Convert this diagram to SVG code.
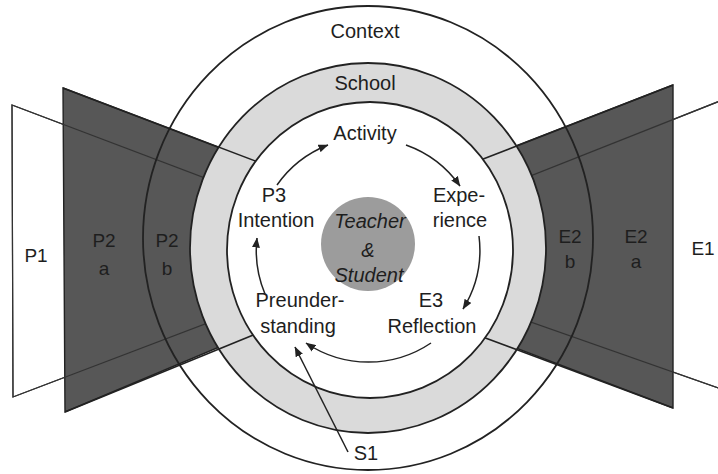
<svg xmlns="http://www.w3.org/2000/svg" width="718" height="474" viewBox="0 0 718 474">
  <style>
    text { font-family: "Liberation Sans", Arial, sans-serif; font-size: 20px; fill: #1e1e1e; text-anchor: middle; }
    .side { font-size: 19px; }
    .ital { font-style: italic; }
    .outline { fill: none; stroke: #333; stroke-width: 1.2; }
    .white { fill: #fff; stroke: #333; stroke-width: 1.2; }
    .dark { fill: #575757; stroke: #222; stroke-width: 1.4; }
    .edge { fill: none; stroke: #222; stroke-width: 1.6; }
    .ring { stroke: #222; stroke-width: 1.8; }
    .arrow { fill: none; stroke: #222; stroke-width: 1.5; marker-end: url(#head); }
  </style>
  <defs>
    <marker id="head" viewBox="0 0 10 8" refX="9.5" refY="4" markerWidth="10" markerHeight="8" markerUnits="userSpaceOnUse" orient="auto">
      <path d="M0,0 L10,4 L0,8 Z" fill="#222"/>
    </marker>
  </defs>

  <rect width="718" height="474" fill="#fff"/>

  <!-- left side: P1 frame and P2 wedge -->
  <g id="p1">
    <polygon class="white" points="12,105 210,180 210,322 13,397"/>
  </g>
  <g id="p2">
    <polygon class="dark" points="63,88 236,154 236,340 65,412"/>
    <polygon class="outline" points="12,105 210,180 210,322 13,397"/>
  </g>

  <!-- right side: E1 frame and E2 wedge -->
  <g id="e1">
    <polygon class="white" points="730,97 528,177 528,321 730,392"/>
  </g>
  <g id="e2">
    <polygon class="dark" points="673,85 500,152 500,342 673,408"/>
    <polygon class="outline" points="730,97 528,177 528,321 730,392"/>
  </g>

  <!-- context ring -->
  <g id="context">
    <ellipse class="ring" cx="368" cy="238" rx="225" ry="232" fill="none"/>
    <text x="365" y="38">Context</text>
  </g>

  <!-- school ring -->
  <g id="school">
    <ellipse class="ring" cx="368" cy="248" rx="178" ry="185" fill="#dadada"/>
    <text x="365" y="90">School</text>
  </g>

  <!-- wedge edges carried across the school ring -->
  <g id="wedge-edges">
    <line class="edge" x1="63" y1="88" x2="258" y2="162"/>
    <line class="edge" x1="65" y1="412" x2="258" y2="333"/>
    <line class="edge" x1="673" y1="85" x2="478" y2="161"/>
    <line class="edge" x1="673" y1="408" x2="480" y2="336"/>
  </g>

  <!-- classroom circle -->
  <g id="classroom">
    <ellipse class="ring" cx="370" cy="250" rx="143" ry="148" fill="#fff"/>
  </g>

  <!-- centre -->
  <g id="centre">
    <circle cx="368" cy="244" r="47" fill="#9c9c9c"/>
    <text class="ital" x="370" y="228">Teacher</text>
    <text class="ital" x="368" y="257">&amp;</text>
    <text class="ital" x="369" y="282">Student</text>
  </g>

  <!-- cycle stations -->
  <g id="activity"><text x="365" y="140">Activity</text></g>
  <g id="experience"><text x="459" y="202">Expe-</text><text x="460" y="227">rience</text></g>
  <g id="reflection"><text x="431" y="307">E3</text><text x="432" y="333">Reflection</text></g>
  <g id="preunderstanding"><text x="300" y="307">Preunder-</text><text x="298" y="333">standing</text></g>
  <g id="intention"><text x="274" y="202">P3</text><text x="276" y="227">Intention</text></g>
  <g id="s1"><text x="366" y="460">S1</text></g>

  <!-- side labels -->
  <g id="side-labels">
    <text class="side" x="36" y="262">P1</text>
    <text class="side" x="104" y="247">P2</text><text class="side" x="104" y="275">a</text>
    <text class="side" x="167" y="247">P2</text><text class="side" x="167" y="275">b</text>
    <text class="side" x="570" y="243">E2</text><text class="side" x="570" y="268">b</text>
    <text class="side" x="636" y="243">E2</text><text class="side" x="636" y="268">a</text>
    <text class="side" x="703" y="255">E1</text>
  </g>

  <!-- connectors -->
  <g id="connectors">
    <path class="arrow" d="M277,185 A112,112 0 0 1 328,145"/>
    <path class="arrow" d="M406,145 A112,112 0 0 1 460,186"/>
    <path class="arrow" d="M479,236 A112,112 0 0 1 463,309"/>
    <path class="arrow" d="M431,343 A112,112 0 0 1 306,343"/>
    <path class="arrow" d="M265,294 A112,112 0 0 1 257,238"/>
    <path class="arrow" d="M348,452 L295,347"/>
  </g>
</svg>
